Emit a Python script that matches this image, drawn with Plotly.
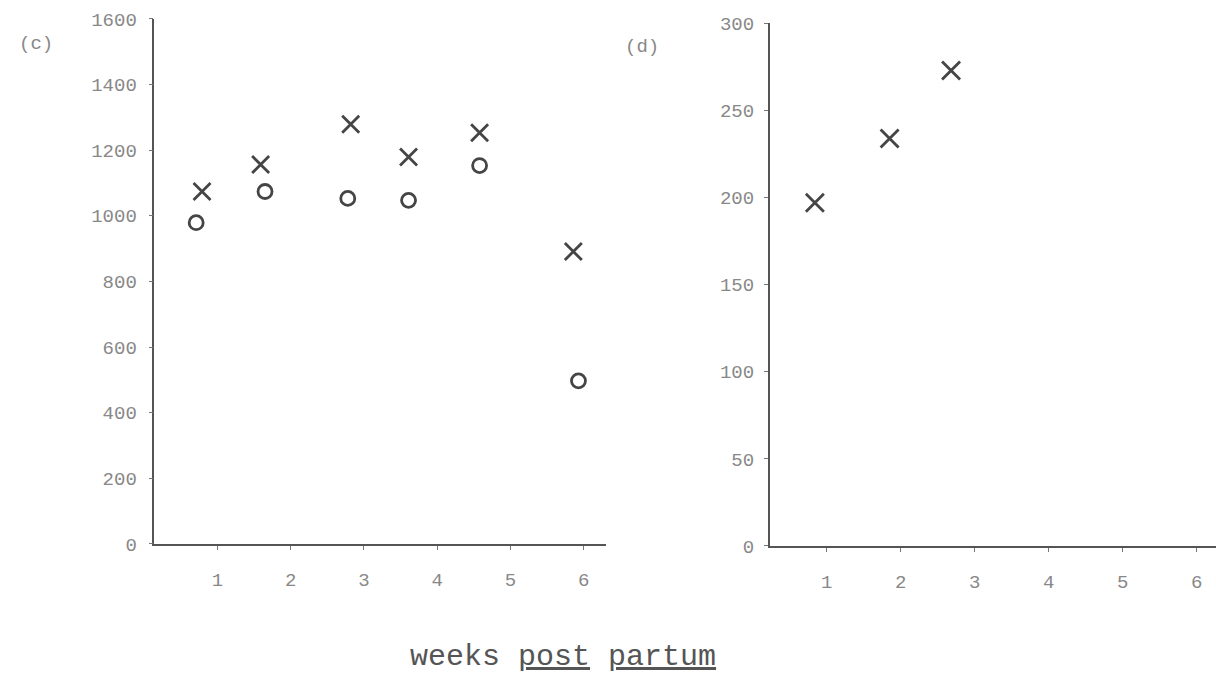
import plotly.graph_objects as go

# Panel (c)
weeks_c_cross = [0.79, 1.59, 2.82, 3.61, 4.58, 5.86]
values_c_cross = [1074, 1156, 1279, 1179, 1253, 891]
weeks_c_circle = [0.71, 1.65, 2.78, 3.61, 4.58, 5.93]
values_c_circle = [979, 1074, 1053, 1047, 1153, 497]

# Panel (d)
weeks_d_cross = [0.84, 1.85, 2.68]
values_d_cross = [197, 234, 273]

week_ticks = [1, 2, 3, 4, 5, 6]
c_ticks = [0, 200, 400, 600, 800, 1000, 1200, 1400, 1600]
d_ticks = [0, 50, 100, 150, 200, 250, 300]

FONT = "Liberation Mono, DejaVu Sans Mono, monospace"
INK = "#454545"
LABEL = "#888888"

fig = go.Figure()

fig.add_trace(go.Scatter(
    x=weeks_c_cross, y=values_c_cross, mode="markers", xaxis="x", yaxis="y",
    marker=dict(symbol="x-thin", size=17, line=dict(width=2.8, color=INK), color=INK),
    showlegend=False))
fig.add_trace(go.Scatter(
    x=weeks_c_circle, y=values_c_circle, mode="markers", xaxis="x", yaxis="y",
    marker=dict(symbol="circle-open", size=14, line=dict(width=2.8, color=INK), color=INK),
    showlegend=False))
fig.add_trace(go.Scatter(
    x=weeks_d_cross, y=values_d_cross, mode="markers", xaxis="x2", yaxis="y2",
    marker=dict(symbol="x-thin", size=18, line=dict(width=2.8, color=INK), color=INK),
    showlegend=False))

axis_common = dict(
    showline=True, linecolor="#555555", linewidth=1.6, showgrid=False, zeroline=False,
    ticks="outside", ticklen=4, tickcolor="#777777", tickwidth=1,
    tickfont=dict(family=FONT, size=19, color=LABEL),
)

fig.update_layout(
    width=1216, height=680,
    margin=dict(l=0, r=0, t=0, b=0),
    paper_bgcolor="white", plot_bgcolor="white",
    xaxis=dict(domain=[0.127, 0.498], range=[0.14, 6.3], tickvals=week_ticks,
               anchor="y", ticklabelstandoff=13, **axis_common),
    yaxis=dict(domain=[0.187, 0.985], range=[0, 1600], tickvals=c_ticks,
               anchor="x", ticklabelstandoff=8, **axis_common),
    xaxis2=dict(domain=[0.633, 1.0], range=[0.23, 6.26], tickvals=week_ticks,
                anchor="y2", ticklabelstandoff=13, **axis_common),
    yaxis2=dict(domain=[0.184, 0.978], range=[0, 300], tickvals=d_ticks,
                anchor="x2", ticklabelstandoff=6, **axis_common),
)

# annotation positions given in pixels from the top-left, converted to paper fractions
annots = [
    ("(c)", 36, 36, 19, LABEL),
    ("(d)", 642, 39, 19, LABEL),
    ("weeks <u>post</u> <u>partum</u>", 563, 670, 30, "#555555"),
]
for text, px, py, size, color in annots:
    fig.add_annotation(text=text, x=px / 1216, y=1 - py / 680, xref="paper", yref="paper",
                       xanchor="center", yanchor="middle", showarrow=False,
                       font=dict(family=FONT, size=size, color=color))

fig.write_html("out.html")
